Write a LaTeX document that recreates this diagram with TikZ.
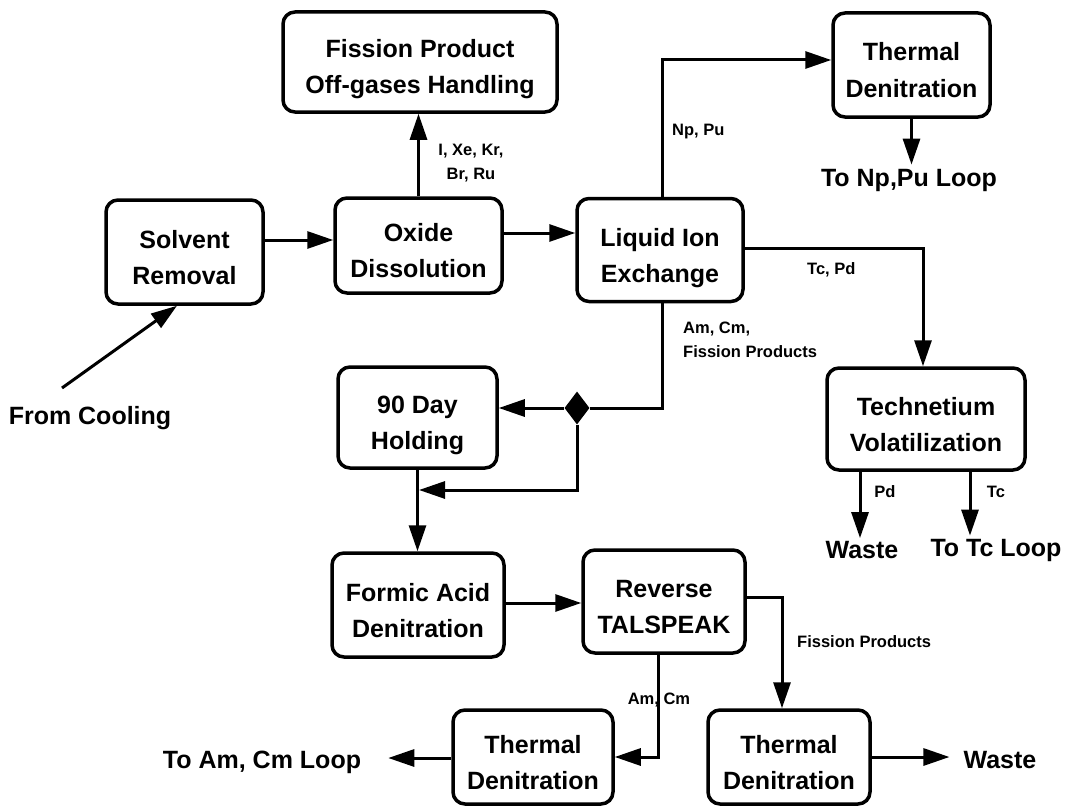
\documentclass[tikz,border=0pt]{standalone}
\usepackage{fontspec}
\setmainfont{Liberation Sans}
\usetikzlibrary{arrows.meta,shapes.geometric}
\begin{document}
\begin{tikzpicture}[x=1pt,y=-1pt,
 box/.style={draw, line width=3.5pt, rounded corners=12pt, align=center, inner sep=0pt, text height=66pt, text depth=2pt, font=\bfseries\fontsize{25}{36}\selectfont},
 big/.style={font=\bfseries\fontsize{25}{30}\selectfont, inner sep=0pt},
 small/.style={font=\bfseries\fontsize{16.5}{24}\selectfont, inner sep=0pt},
 conn/.style={line width=3pt},
 arr/.style={conn, -{Triangle[length=26pt,width=17pt]}},
]
\useasboundingbox[fill=white] (0,0) rectangle (1066,808);

% boxes
\node[box, minimum width=274pt, minimum height=100pt] (fission) at (420,62) {Fission Product\\Off-gases Handling};
\node[box, minimum width=157pt, minimum height=104pt] (solvent) at (184.5,252) {Solvent\\Removal};
\node[box, minimum width=167pt, minimum height=95pt] (oxide) at (418.5,245.5) {Oxide\\Dissolution};
\node[box, minimum width=166pt, minimum height=103pt] (lie) at (660,250) {Liquid Ion\\Exchange};
\node[box, minimum width=157pt, minimum height=104pt] (thermtop) at (911.5,65) {Thermal\\Denitration};
\node[box, minimum width=198pt, minimum height=102pt] (tech) at (926,419) {Technetium\\Volatilization};
\node[box, minimum width=159pt, minimum height=101pt] (hold) at (417.5,417.5) {90 Day\\Holding};
\node[box, minimum width=172pt, minimum height=104pt] (formic) at (418,605) {Formic Acid\\Denitration};
\node[box, minimum width=162pt, minimum height=103pt] (reverse) at (664,601.5) {Reverse\\TALSPEAK};
\node[box, minimum width=160pt, minimum height=94pt] (thermbl) at (533,757) {Thermal\\Denitration};
\node[box, minimum width=162pt, minimum height=94pt] (thermbr) at (789,757) {Thermal\\Denitration};

% free texts
\node[big] (fromcool) at (90,418) {From Cooling};
\node[big] (tonppu) at (909,180) {To Np,Pu Loop};
\node[big] (waste1) at (862,550) {Waste};
\node[big] (totc) at (996,550) {To Tc Loop};
\node[big] (toamcm) at (262,762) {To Am, Cm Loop};
\node[big] (waste2) at (1000,760) {Waste};

% diamond splitter
\node[diamond, aspect=0.75, fill=black, minimum width=25pt, minimum height=33pt, inner sep=0pt] (dia) at (577,408) {};

% connectors
\coordinate (fc) at (62,388);
\draw[arr] (fc) -- (solvent.south -| 177,0);
\draw[arr] (solvent.east |- 0,240) -- (oxide.west |- 0,240);
\draw[arr] (oxide.east |- 0,233) -- (lie.west |- 0,233);
\draw[arr] (oxide.north) -- (oxide.north |- fission.south);

\coordinate (npc) at (662,60);
\draw[arr] (lie.north -| npc) -- (npc) -- (thermtop.west |- npc);
\draw[arr, shorten >=4pt] (thermtop.south) -- (thermtop.south |- tonppu.north);

\coordinate (tcpd) at (923,248);
\draw[arr] (lie.east |- tcpd) -- (tcpd) -- (tech.north -| tcpd);
\draw[arr, shorten >=3pt] (tech.south -| 860,0) -- (waste1.north -| 860,0);
\draw[arr, shorten >=3pt] (tech.south -| 970,0) -- (totc.north -| 970,0);

\coordinate (amc) at (662,408);
\draw[conn] (lie.south -| amc) -- (amc) -- (dia.east);
\draw[arr] (dia.west) -- (hold.east |- dia.west);
\coordinate (loopc) at (577,490);
\draw[arr, shorten >=1.5pt] (dia.south) -- (loopc) -- (hold.south |- loopc);
\draw[arr] (hold.south) -- (formic.north -| hold.south);

\draw[arr] (formic.east |- 0,603) -- (reverse.west |- 0,603);
\coordinate (fpc) at (782,597);
\draw[arr] (reverse.east |- fpc) -- (fpc) -- (thermbr.north -| fpc);
\coordinate (amcm) at (658,757);
\draw[arr] (reverse.south -| amcm) -- (amcm) -- (thermbl.east |- amcm);
\draw[arr, shorten >=27pt] (thermbl.west |- 0,758) -- (toamcm.east |- 0,758);
\draw[arr, shorten >=14pt] (thermbr.east |- 0,757) -- (waste2.west |- 0,757);

% small labels
\node[small, align=center] (lx) at (471,163) {I, Xe, Kr,\\Br, Ru};
\node[small, anchor=west] (lnp) at (672,132) {Np, Pu};
\node[small, anchor=west] (ltc) at (807,270) {Tc, Pd};
\node[small, align=left, anchor=west] (lam) at (683,340) {Am, Cm,\\Fission Products};
\node[small, anchor=west] (lfp) at (797,642) {Fission Products};
\node[small] (lamcm) at (659,700) {Am, Cm};
\node[small] (lpd) at (885,492) {Pd};
\node[small] (ltc2) at (996,492) {Tc};
\end{tikzpicture}
\end{document}
